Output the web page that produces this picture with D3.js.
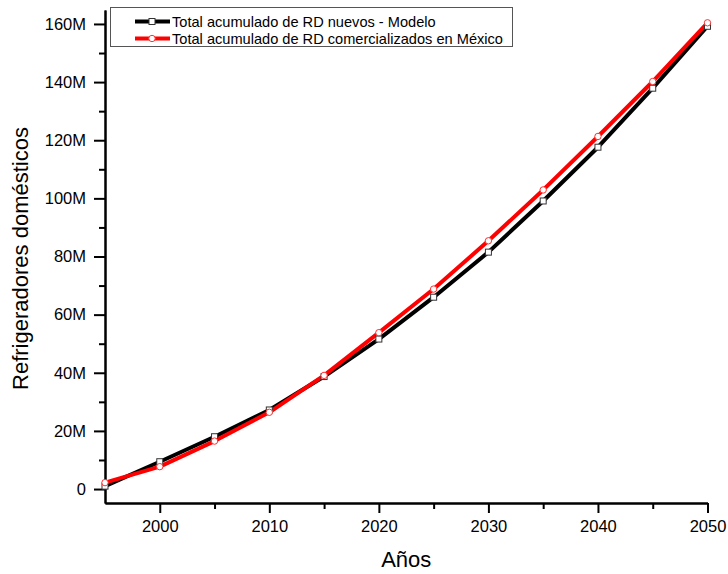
<!DOCTYPE html>
<html>
<head>
<meta charset="utf-8">
<script src="https://cdn.jsdelivr.net/npm/d3@7"></script>
<style>
  html, body { margin: 0; padding: 0; background: #fff; }
  svg { display: block; font-family: "Liberation Sans", Arial, sans-serif; }
</style>
</head>
<body>
<svg id="chart" width="728" height="574"></svg>
<script>
// Years sampled every five years
const years = [1995, 2000, 2005, 2010, 2015, 2020, 2025, 2030, 2035, 2040, 2045, 2050];
// Cumulative domestic refrigerators, millions
const modelo = [1.0, 9.4, 18.0, 27.2, 38.7, 51.6, 66.0, 81.5, 99.1, 117.6, 137.9, 159.2];
const comercializados = [2.2, 7.7, 16.5, 26.4, 39.1, 53.8, 68.8, 85.4, 102.9, 121.3, 140.2, 160.4];
const seriesNames = ["Total acumulado de RD nuevos - Modelo", "Total acumulado de RD comercializados en México"];
const xTicks = [2000, 2010, 2020, 2030, 2040, 2050];
const xMinor = [2005, 2015, 2025, 2035, 2045];
const yTicks = [0, 20, 40, 60, 80, 100, 120, 140, 160];
const yMinor = [10, 30, 50, 70, 90, 110, 130, 150];

const svg = d3.select("#chart");
const plotLeft = 105, plotRight = 707.5, plotTop = 10, plotBottom = 503;

const x = d3.scaleLinear().domain([1995, 2050]).range([plotLeft, plotRight]);
const y = d3.scaleLinear().domain([-4.8, 164.8]).range([plotBottom, plotTop]);

// Axes
svg.append("g").attr("transform", `translate(0,${plotBottom})`)
  .call(d3.axisBottom(x).tickValues(xTicks).tickFormat(d3.format("d")).tickSize(10).tickSizeOuter(0).tickPadding(7));
svg.append("g").attr("transform", `translate(0,${plotBottom})`)
  .call(d3.axisBottom(x).tickValues(xMinor).tickFormat("").tickSize(6).tickSizeOuter(0));
svg.append("g").attr("transform", `translate(${plotLeft},0)`)
  .call(d3.axisLeft(y).tickValues(yTicks).tickFormat(d => d === 0 ? "0" : d + "M").tickSize(11).tickSizeOuter(0).tickPadding(8));
svg.append("g").attr("transform", `translate(${plotLeft},0)`)
  .call(d3.axisLeft(y).tickValues(yMinor).tickFormat("").tickSize(6).tickSizeOuter(0));

svg.selectAll(".domain").attr("stroke", "#000").attr("stroke-width", 2);
svg.selectAll(".tick line").attr("stroke", "#000").attr("stroke-width", 2);
svg.selectAll(".tick text").attr("fill", "#000").style("font-size", "16.5px")
  .style("font-family", "'Liberation Sans', Arial, sans-serif");

// Axis titles
svg.append("text").attr("x", (plotLeft + plotRight) / 2).attr("y", 567).attr("text-anchor", "middle")
  .style("font-size", "22px").text("Años");
svg.append("text").attr("transform", `translate(28,${(plotTop + plotBottom) / 2 + 2}) rotate(-90)`)
  .attr("text-anchor", "middle").style("font-size", "22px").text("Refrigeradores domésticos");

// Lines
const line = d3.line().x((d, i) => x(years[i])).y(d => y(d));
const dataSets = [
  { values: modelo, color: "#000000", marker: "square" },
  { values: comercializados, color: "#ff0000", marker: "circle" }
];
dataSets.forEach(s => {
  svg.append("path").datum(s.values).attr("d", line)
    .attr("fill", "none").attr("stroke", s.color).attr("stroke-width", 4).attr("stroke-linejoin", "round");
});
dataSets.forEach(s => {
  const g = svg.append("g");
  if (s.marker === "square") {
    g.selectAll("rect").data(s.values).join("rect")
      .attr("x", (d, i) => x(years[i]) - 3).attr("y", d => y(d) - 3)
      .attr("width", 6).attr("height", 6)
      .attr("fill", "#fff").attr("stroke", "#333").attr("stroke-width", 1);
  } else {
    g.selectAll("circle").data(s.values).join("circle")
      .attr("cx", (d, i) => x(years[i])).attr("cy", d => y(d)).attr("r", 3.2)
      .attr("fill", "#fff").attr("stroke", "#ff3030").attr("stroke-width", 1);
  }
});

// Legend
const lg = svg.append("g");
lg.append("rect").attr("x", 110.5).attr("y", 7.5).attr("width", 402).attr("height", 39)
  .attr("fill", "#fff").attr("stroke", "#555").attr("stroke-width", 1);
dataSets.forEach((s, i) => {
  const cy = 21.5 + i * 17;
  lg.append("line").attr("x1", 135).attr("x2", 170).attr("y1", cy).attr("y2", cy)
    .attr("stroke", s.color).attr("stroke-width", 4);
  if (s.marker === "square") {
    lg.append("rect").attr("x", 149).attr("y", cy - 3).attr("width", 6).attr("height", 6)
      .attr("fill", "#fff").attr("stroke", "#333").attr("stroke-width", 1);
  } else {
    lg.append("circle").attr("cx", 152).attr("cy", cy).attr("r", 3.2)
      .attr("fill", "#fff").attr("stroke", "#ff3030").attr("stroke-width", 1);
  }
  lg.append("text").attr("x", 172).attr("y", cy + 5).style("font-size", "14.6px").attr("fill", "#000")
    .text(seriesNames[i]);
});
</script>
</body>
</html>
